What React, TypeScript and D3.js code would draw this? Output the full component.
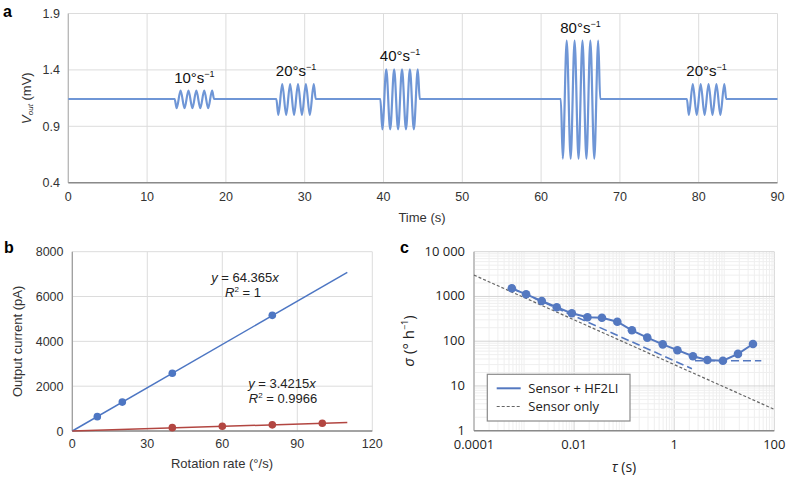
import React from 'react';
import * as d3 from 'd3';

// ---------- Panel a data ----------
const timeTicks = [0, 10, 20, 30, 40, 50, 60, 70, 80, 90];
const voltTicks = [0.4, 0.9, 1.4, 1.9];
const baselineV = 1.142;
const burstLabels = ['10', '20', '40', '80', '20'];
const burstStarts = [13.5, 26.4, 39.6, 62.5, 78.5];
const burstEnds = [18.5, 31.4, 44.6, 67.5, 83.5];
const burstHigh = [1.216, 1.275, 1.405, 1.659, 1.275];
const burstLow = [1.06, 1.0, 0.873, 0.613, 1.0];
const burstTroughTimes = [
  [13.75, 14.75, 15.75, 16.75, 17.75],
  [26.65, 27.65, 28.65, 29.65, 30.65],
  [39.85, 40.85, 41.85, 42.85, 43.85],
  [62.75, 63.75, 64.75, 65.75, 66.75],
  [78.75, 79.75, 80.75, 81.75, 82.75],
];
const burstPeakTimes = [
  [14.25, 15.25, 16.25, 17.25, 18.25],
  [27.15, 28.15, 29.15, 30.15, 31.15],
  [40.35, 41.35, 42.35, 43.35, 44.35],
  [63.25, 64.25, 65.25, 66.25, 67.25],
  [79.25, 80.25, 81.25, 82.25, 83.25],
];

// ---------- Panel b data ----------
const rateTicks = [0, 30, 60, 90, 120];
const currentTicks = [0, 2000, 4000, 6000, 8000];
const blueRate = [10, 20, 40, 80];
const blueCurrent = [640, 1290, 2575, 5160];
const redRate = [40, 60, 80, 100];
const redCurrent = [150, 210, 275, 345];
const blueFitRate = [0, 110];
const blueFitCurrent = [0, 7080];
const redFitRate = [0, 110];
const redFitCurrent = [0, 376];

// ---------- Panel c data ----------
const tauTicks = [0.0001, 0.01, 1, 100];
const tauTickLabels = ['0.0001', '0.01', '1', '100'];
const sigmaTicks = [1, 10, 100, 1000, 10000];
const sigmaTickLabels = ['1', '10', '100', '1000', '10 000'];
const tau = [0.00057, 0.0011, 0.00226, 0.0045, 0.009, 0.0185, 0.036, 0.073, 0.143, 0.29, 0.59, 1.16, 2.37, 4.6, 9.4, 18.8, 37.5];
const sigma = [1520, 1117, 794, 573, 420, 342, 335, 273, 175, 120, 85, 63, 46, 38, 36.6, 52, 86.5];
const sensorOnlyTau = [0.0001, 100];
const sensorOnlySigma = [3000, 3];
const arwFitTau = [0.00057, 2.26];
const arwFitSigma = [1530, 24.3];
const biasFitTau = [2.6, 55];
const biasFitSigma = [36.6, 36.6];

const ARIAL = "'Liberation Sans', Arial, Helvetica, sans-serif";
const SEGOE = "'Open Sans', 'Noto Sans', sans-serif";
const GRID = '#dcdcdc';

function Sup({ children }: { children: React.ReactNode }) {
  return <tspan dy={-6} fontSize={9}>{children}</tspan>;
}

export default function App() {
  // ----- Panel a -----
  const xa = d3.scaleLinear().domain([0, 90]).range([68.3, 777.5]);
  const ya = d3.scaleLinear().domain([0.4, 1.9]).range([182.7, 13.5]);
  const signal: [number, number][] = [[0, baselineV]];
  burstStarts.forEach((s, i) => {
    signal.push([s, baselineV]);
    burstTroughTimes[i].forEach((t, k) => {
      signal.push([t, burstLow[i]]);
      signal.push([burstPeakTimes[i][k], burstHigh[i]]);
    });
    signal.push([burstEnds[i], baselineV]);
  });
  signal.push([90, baselineV]);
  const lineA = d3.line<[number, number]>().x(d => xa(d[0])).y(d => ya(d[1])).curve(d3.curveMonotoneX);

  // ----- Panel b -----
  const xb = d3.scaleLinear().domain([0, 120]).range([72.3, 372.3]);
  const yb = d3.scaleLinear().domain([0, 8000]).range([431, 251.7]);
  const lineB = d3.line<[number, number]>().x(d => xb(d[0])).y(d => yb(d[1]));
  const zip = (a: number[], b: number[]) => a.map((v, i) => [v, b[i]] as [number, number]);

  // ----- Panel c -----
  const xc = d3.scaleLog().domain([1e-4, 100]).range([474, 774.3]);
  const yc = d3.scaleLog().domain([1, 1e4]).range([430.7, 251.7]);
  const lineC = d3.line<[number, number]>().x(d => xc(d[0])).y(d => yc(d[1]));
  const xMinor = xc.ticks();
  const yMinor = yc.ticks();
  const isMajorX = (v: number) => tauTicks.some(t => Math.abs(t - v) / t < 1e-6);
  const isMajorY = (v: number) => sigmaTicks.some(t => Math.abs(t - v) / t < 1e-6);

  const blueA = '#6f96d6';
  const blueB = '#4d76c3';
  const redB = '#b24641';
  const blueC = '#5478c0';

  return (
    <svg width={788} height={478} style={{ position: 'absolute', left: 0, top: 0, background: '#fff' }}>
      <rect x={0} y={0} width={788} height={478} fill="#fff" />
      {/* ================= Panel a ================= */}
      <text x={3} y={17} fontFamily={ARIAL} fontWeight="bold" fontSize={16}>a</text>
      {timeTicks.map(t => (
        <line key={'ag' + t} x1={xa(t)} x2={xa(t)} y1={ya(1.9)} y2={ya(0.4)} stroke={GRID} strokeWidth={1} />
      ))}
      {voltTicks.map(v => (
        <line key={'agy' + v} x1={xa(0)} x2={xa(90)} y1={ya(v)} y2={ya(v)} stroke={GRID} strokeWidth={1} />
      ))}
      <line x1={xa(0)} x2={xa(0)} y1={ya(1.9)} y2={ya(0.4)} stroke="#b5b5b5" strokeWidth={1.2} />
      <line x1={xa(0)} x2={xa(90)} y1={ya(0.4)} y2={ya(0.4)} stroke="#8a8a8a" strokeWidth={1.6} />
      {voltTicks.map(v => (
        <text key={'aty' + v} x={60} y={ya(v) + 4.5} textAnchor="end" fontFamily={ARIAL} fontSize={12.5} fill="#333">{v.toFixed(1)}</text>
      ))}
      {timeTicks.map(t => (
        <text key={'atx' + t} x={xa(t)} y={201} textAnchor="middle" fontFamily={ARIAL} fontSize={12.5} fill="#333">{t}</text>
      ))}
      <text x={422} y={222} textAnchor="middle" fontFamily={ARIAL} fontSize={13} fill="#333">Time (s)</text>
      <text transform={`translate(31,${ya(1.15)}) rotate(-90)`} textAnchor="middle" fontFamily={ARIAL} fontSize={13} fill="#333">
        <tspan fontStyle="italic">V</tspan>
        <tspan fontStyle="italic" fontSize={8} dy={2}>out</tspan>
        <tspan dy={-2}> (mV)</tspan>
      </text>
      <path d={lineA(signal) || ''} fill="none" stroke={blueA} strokeWidth={2.2} strokeLinejoin="round" />
      {burstLabels.map((l, i) => (
        <text key={'bl' + i} x={xa((burstStarts[i] + burstEnds[i]) / 2)} y={ya(burstHigh[i]) - 8} textAnchor="middle" fontFamily={ARIAL} fontSize={15} fill="#111">
          {l}°s<Sup>−1</Sup>
        </text>
      ))}

      {/* ================= Panel b ================= */}
      <text x={4} y={253} fontFamily={ARIAL} fontWeight="bold" fontSize={16}>b</text>
      {rateTicks.map(t => (
        <line key={'bg' + t} x1={xb(t)} x2={xb(t)} y1={yb(8000)} y2={yb(0)} stroke={GRID} />
      ))}
      {currentTicks.map(v => (
        <line key={'bgy' + v} x1={xb(0)} x2={xb(120)} y1={yb(v)} y2={yb(v)} stroke={GRID} />
      ))}
      <line x1={xb(0)} x2={xb(0)} y1={yb(8000)} y2={yb(0)} stroke="#9a9a9a" strokeWidth={1.2} />
      <line x1={xb(0)} x2={xb(120)} y1={yb(0)} y2={yb(0)} stroke="#8a8a8a" strokeWidth={1.6} />
      {currentTicks.map(v => (
        <text key={'bty' + v} x={63.5} y={yb(v) + 4.5} textAnchor="end" fontFamily={ARIAL} fontSize={12.5} fill="#333">{v}</text>
      ))}
      {rateTicks.map(t => (
        <text key={'btx' + t} x={xb(t)} y={448} textAnchor="middle" fontFamily={ARIAL} fontSize={12.5} fill="#333">{t}</text>
      ))}
      <text x={222} y={468} textAnchor="middle" fontFamily={ARIAL} fontSize={13} fill="#333">Rotation rate (°/s)</text>
      <text transform={`translate(22,${yb(4000)}) rotate(-90)`} textAnchor="middle" fontFamily={ARIAL} fontSize={13} fill="#333">Output current (pA)</text>
      <path d={lineB(zip(blueFitRate, blueFitCurrent)) || ''} stroke={blueB} strokeWidth={1.5} fill="none" />
      <path d={lineB(zip(redFitRate, redFitCurrent)) || ''} stroke={redB} strokeWidth={1.5} fill="none" />
      {blueRate.map((r, i) => (
        <circle key={'bb' + i} cx={xb(r)} cy={yb(blueCurrent[i])} r={3.8} fill={blueB} />
      ))}
      {redRate.map((r, i) => (
        <circle key={'br' + i} cx={xb(r)} cy={yb(redCurrent[i])} r={3.8} fill={redB} />
      ))}
      <text x={245} y={282} textAnchor="middle" fontFamily={ARIAL} fontSize={13} fill="#222">
        <tspan fontStyle="italic">y</tspan> = 64.365<tspan fontStyle="italic">x</tspan>
      </text>
      <text x={243} y={297} textAnchor="middle" fontFamily={ARIAL} fontSize={13} fill="#222">
        <tspan fontStyle="italic">R</tspan><tspan dy={-5} fontSize={8}>2</tspan><tspan dy={5}> = 1</tspan>
      </text>
      <text x={282} y={388} textAnchor="middle" fontFamily={ARIAL} fontSize={13} fill="#222">
        <tspan fontStyle="italic">y</tspan> = 3.4215<tspan fontStyle="italic">x</tspan>
      </text>
      <text x={283} y={403} textAnchor="middle" fontFamily={ARIAL} fontSize={13} fill="#222">
        <tspan fontStyle="italic">R</tspan><tspan dy={-5} fontSize={8}>2</tspan><tspan dy={5}> = 0.9966</tspan>
      </text>

      {/* ================= Panel c ================= */}
      <text x={400} y={253} fontFamily={ARIAL} fontWeight="bold" fontSize={16}>c</text>
      {xMinor.map((t, i) => (
        <line key={'cgx' + i} x1={xc(t)} x2={xc(t)} y1={yc(1e4)} y2={yc(1)} stroke={isMajorX(t) ? '#d4d4d4' : '#efefef'} />
      ))}
      {yMinor.map((v, i) => (
        <line key={'cgy' + i} x1={xc(1e-4)} x2={xc(100)} y1={yc(v)} y2={yc(v)} stroke={isMajorY(v) ? '#d4d4d4' : '#efefef'} />
      ))}
      <line x1={xc(1e-4)} x2={xc(1e-4)} y1={yc(1e4)} y2={yc(1)} stroke="#a8a8a8" strokeWidth={1.2} />
      <line x1={xc(1e-4)} x2={xc(100)} y1={yc(1)} y2={yc(1)} stroke="#8a8a8a" strokeWidth={1.6} />
      {sigmaTicks.map((v, i) => (
        <text key={'cty' + i} x={465} y={yc(v) + 4} textAnchor="end" fontFamily={SEGOE} fontSize={13} fill="#222">{sigmaTickLabels[i]}</text>
      ))}
      {tauTicks.map((t, i) => (
        <text key={'ctx' + i} x={xc(t)} y={449} textAnchor="middle" fontFamily={SEGOE} fontSize={13} fill="#222">{tauTickLabels[i]}</text>
      ))}
      <text x={624} y={472} textAnchor="middle" fontFamily={SEGOE} fontSize={14} fill="#222">
        <tspan fontStyle="italic">τ</tspan> (s)
      </text>
      <text transform={`translate(414,341) rotate(-90)`} textAnchor="middle" fontFamily={SEGOE} fontSize={15} fill="#222">
        <tspan fontStyle="italic">σ</tspan> (° h<tspan dy={-6} fontSize={9}>−1</tspan><tspan dy={6}>)</tspan>
      </text>
      <path d={lineC(zip(sensorOnlyTau, sensorOnlySigma)) || ''} stroke="#666" strokeWidth={1.2} strokeDasharray="3,2" fill="none" />
      <path d={lineC(zip(arwFitTau, arwFitSigma)) || ''} stroke={blueC} strokeWidth={1.6} strokeDasharray="8,4" fill="none" />
      <path d={lineC(zip(biasFitTau, biasFitSigma)) || ''} stroke={blueC} strokeWidth={1.6} strokeDasharray="8,4" fill="none" />
      <path d={lineC(zip(tau, sigma)) || ''} stroke={blueC} strokeWidth={2} fill="none" />
      {tau.map((t, i) => (
        <circle key={'cp' + i} cx={xc(t)} cy={yc(sigma[i])} r={4.3} fill={blueC} />
      ))}
      <rect x={487.3} y={374.3} width={142.7} height={46.7} fill="#fff" stroke="#8a8a8a" strokeWidth={1.2} />
      <line x1={496.7} x2={520.7} y1={388.3} y2={388.3} stroke={blueC} strokeWidth={2} />
      <text x={528.3} y={392.8} fontFamily={SEGOE} fontSize={13} fill="#222">Sensor + HF2LI</text>
      <line x1={496.7} x2={520.7} y1={406.5} y2={406.5} stroke="#666" strokeWidth={1.2} strokeDasharray="3,2" />
      <text x={528.3} y={411} fontFamily={SEGOE} fontSize={13} fill="#222">Sensor only</text>
    </svg>
  );
}
